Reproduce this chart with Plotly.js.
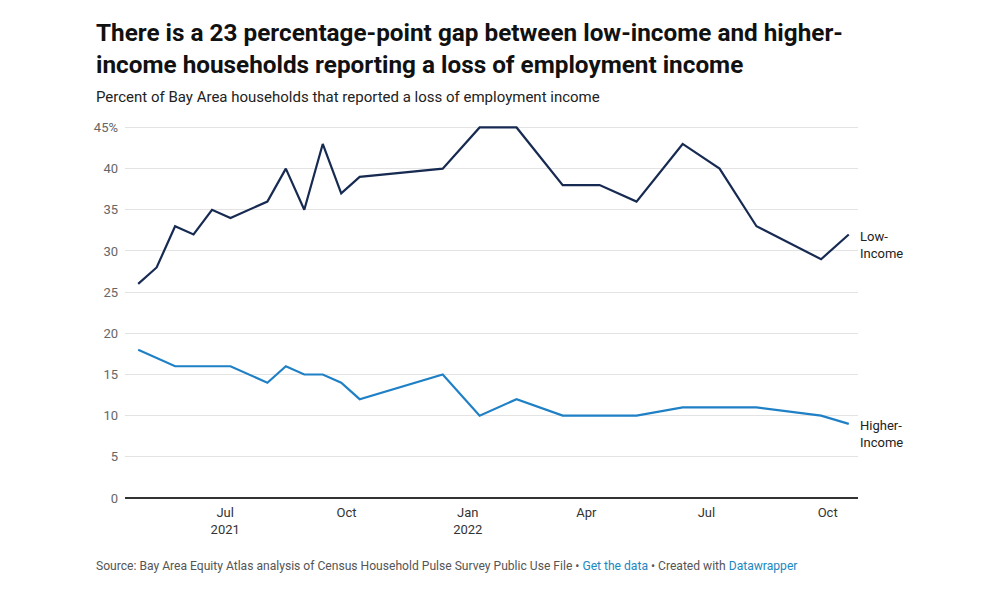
<!DOCTYPE html>
<html>
<head>
<meta charset="utf-8">
<script src="https://cdn.plot.ly/plotly-3.0.1.min.js"></script>
<style>
  html, body { margin: 0; padding: 0; background: #ffffff; }
  #chart { width: 1000px; height: 600px; }
</style>
</head>
<body>
<div id="chart"></div>
<script>
// Survey week end dates (Household Pulse Survey)
var dates = [
  '2021-04-26', '2021-05-10', '2021-05-24', '2021-06-07', '2021-06-21', '2021-07-05',
  '2021-08-02', '2021-08-16', '2021-08-30', '2021-09-13', '2021-09-27', '2021-10-11',
  '2021-12-13', '2022-01-10', '2022-02-07', '2022-03-14', '2022-04-11', '2022-05-09',
  '2022-06-13', '2022-07-11', '2022-08-08', '2022-09-26', '2022-10-17'
];
var lowIncome = [26, 28, 33, 32, 35, 34, 36, 40, 35, 43, 37, 39, 40, 45, 45, 38, 38, 36, 43, 40, 33, 29, 32];
var higherIncome = [18, 17, 16, 16, 16, 16, 14, 16, 15, 15, 14, 12, 15, 10, 12, 10, 10, 10, 11, 11, 11, 10, 9];

var seriesNames = ['Low-<br>Income', 'Higher-<br>Income'];
var xTickVals = ['2021-07-01', '2021-10-01', '2022-01-01', '2022-04-01', '2022-07-01', '2022-10-01'];
var xTickText = ['Jul<br>2021', 'Oct', 'Jan<br>2022', 'Apr', 'Jul', 'Oct'];
var yTickVals = [0, 5, 10, 15, 20, 25, 30, 35, 40, 45];
var yTickText = ['0', '5', '10', '15', '20', '25', '30', '35', '40', '45%'];

var titleText = '<b>There is a 23 percentage-point gap between low-income and higher-<br>income households reporting a loss of employment income</b>';
var subtitleText = 'Percent of Bay Area households that reported a loss of employment income';
var sourceText = 'Source: Bay Area Equity Atlas analysis of Census Household Pulse Survey Public Use File \u2022 <span style="color:#1d87c0">Get the data</span> \u2022 Created with <span style="color:#1d87c0">Datawrapper</span>';

var colLow = '#172a52';
var colHigh = '#1f80c6';

var traces = [
  { x: dates, y: lowIncome, type: 'scatter', mode: 'lines', name: 'Low-Income',
    line: { color: colLow, width: 2.2 }, hoverinfo: 'x+y' },
  { x: dates, y: higherIncome, type: 'scatter', mode: 'lines', name: 'Higher-Income',
    line: { color: colHigh, width: 2.2 }, hoverinfo: 'x+y' }
];

var titleFont = { family: 'Roboto, sans-serif', size: 24.3, color: '#111111' };
var last = dates.length - 1;
var layout = {
  width: 1000, height: 600,
  paper_bgcolor: '#ffffff', plot_bgcolor: '#ffffff',
  margin: { l: 125, r: 142, t: 125, b: 102 },
  showlegend: false,
  font: { family: 'Roboto, sans-serif', color: '#333333' },
  xaxis: {
    type: 'date',
    range: ['2021-04-16', '2022-10-24'],
    tickmode: 'array', tickvals: xTickVals, ticktext: xTickText,
    showgrid: false, zeroline: false, showline: false,
    ticks: '', ticklen: 0, ticklabelstandoff: 5,
    tickfont: { family: 'Roboto, sans-serif', size: 13, color: '#333333' }
  },
  yaxis: {
    range: [0, 45.3],
    tickmode: 'array', tickvals: yTickVals, ticktext: yTickText,
    showgrid: true, gridcolor: '#e3e3e3', gridwidth: 1,
    zeroline: true, zerolinecolor: '#333333', zerolinewidth: 1.5,
    showline: false, ticks: '', ticklabelstandoff: 6,
    tickfont: { family: 'Roboto, sans-serif', size: 13, color: '#666666' }
  },
  annotations: [
    { xref: 'paper', yref: 'paper', x: -0.0425, y: 1.205, xanchor: 'left', yanchor: 'middle',
      align: 'left', text: titleText, showarrow: false, font: titleFont },
    { xref: 'paper', yref: 'paper', x: -0.0425, y: 1.074, xanchor: 'left', yanchor: 'middle',
      text: subtitleText, showarrow: false,
      font: { family: 'Roboto, sans-serif', size: 15, color: '#222222' } },
    { xref: 'paper', yref: 'paper', x: -0.0425, y: -0.181, xanchor: 'left', yanchor: 'middle',
      text: sourceText, showarrow: false,
      font: { family: 'Roboto, sans-serif', size: 12.1, color: '#555555' } },
    { x: dates[last], y: lowIncome[last], xanchor: 'left', yanchor: 'middle', align: 'left',
      xshift: 9, yshift: -10, text: seriesNames[0], showarrow: false,
      font: { family: 'Roboto, sans-serif', size: 13, color: '#222222' } },
    { x: dates[last], y: higherIncome[last], xanchor: 'left', yanchor: 'middle', align: 'left',
      xshift: 9, yshift: -10, text: seriesNames[1], showarrow: false,
      font: { family: 'Roboto, sans-serif', size: 13, color: '#222222' } }
  ]
};

Plotly.newPlot('chart', traces, layout, { displayModeBar: false, staticPlot: true });
</script>
</body>
</html>
